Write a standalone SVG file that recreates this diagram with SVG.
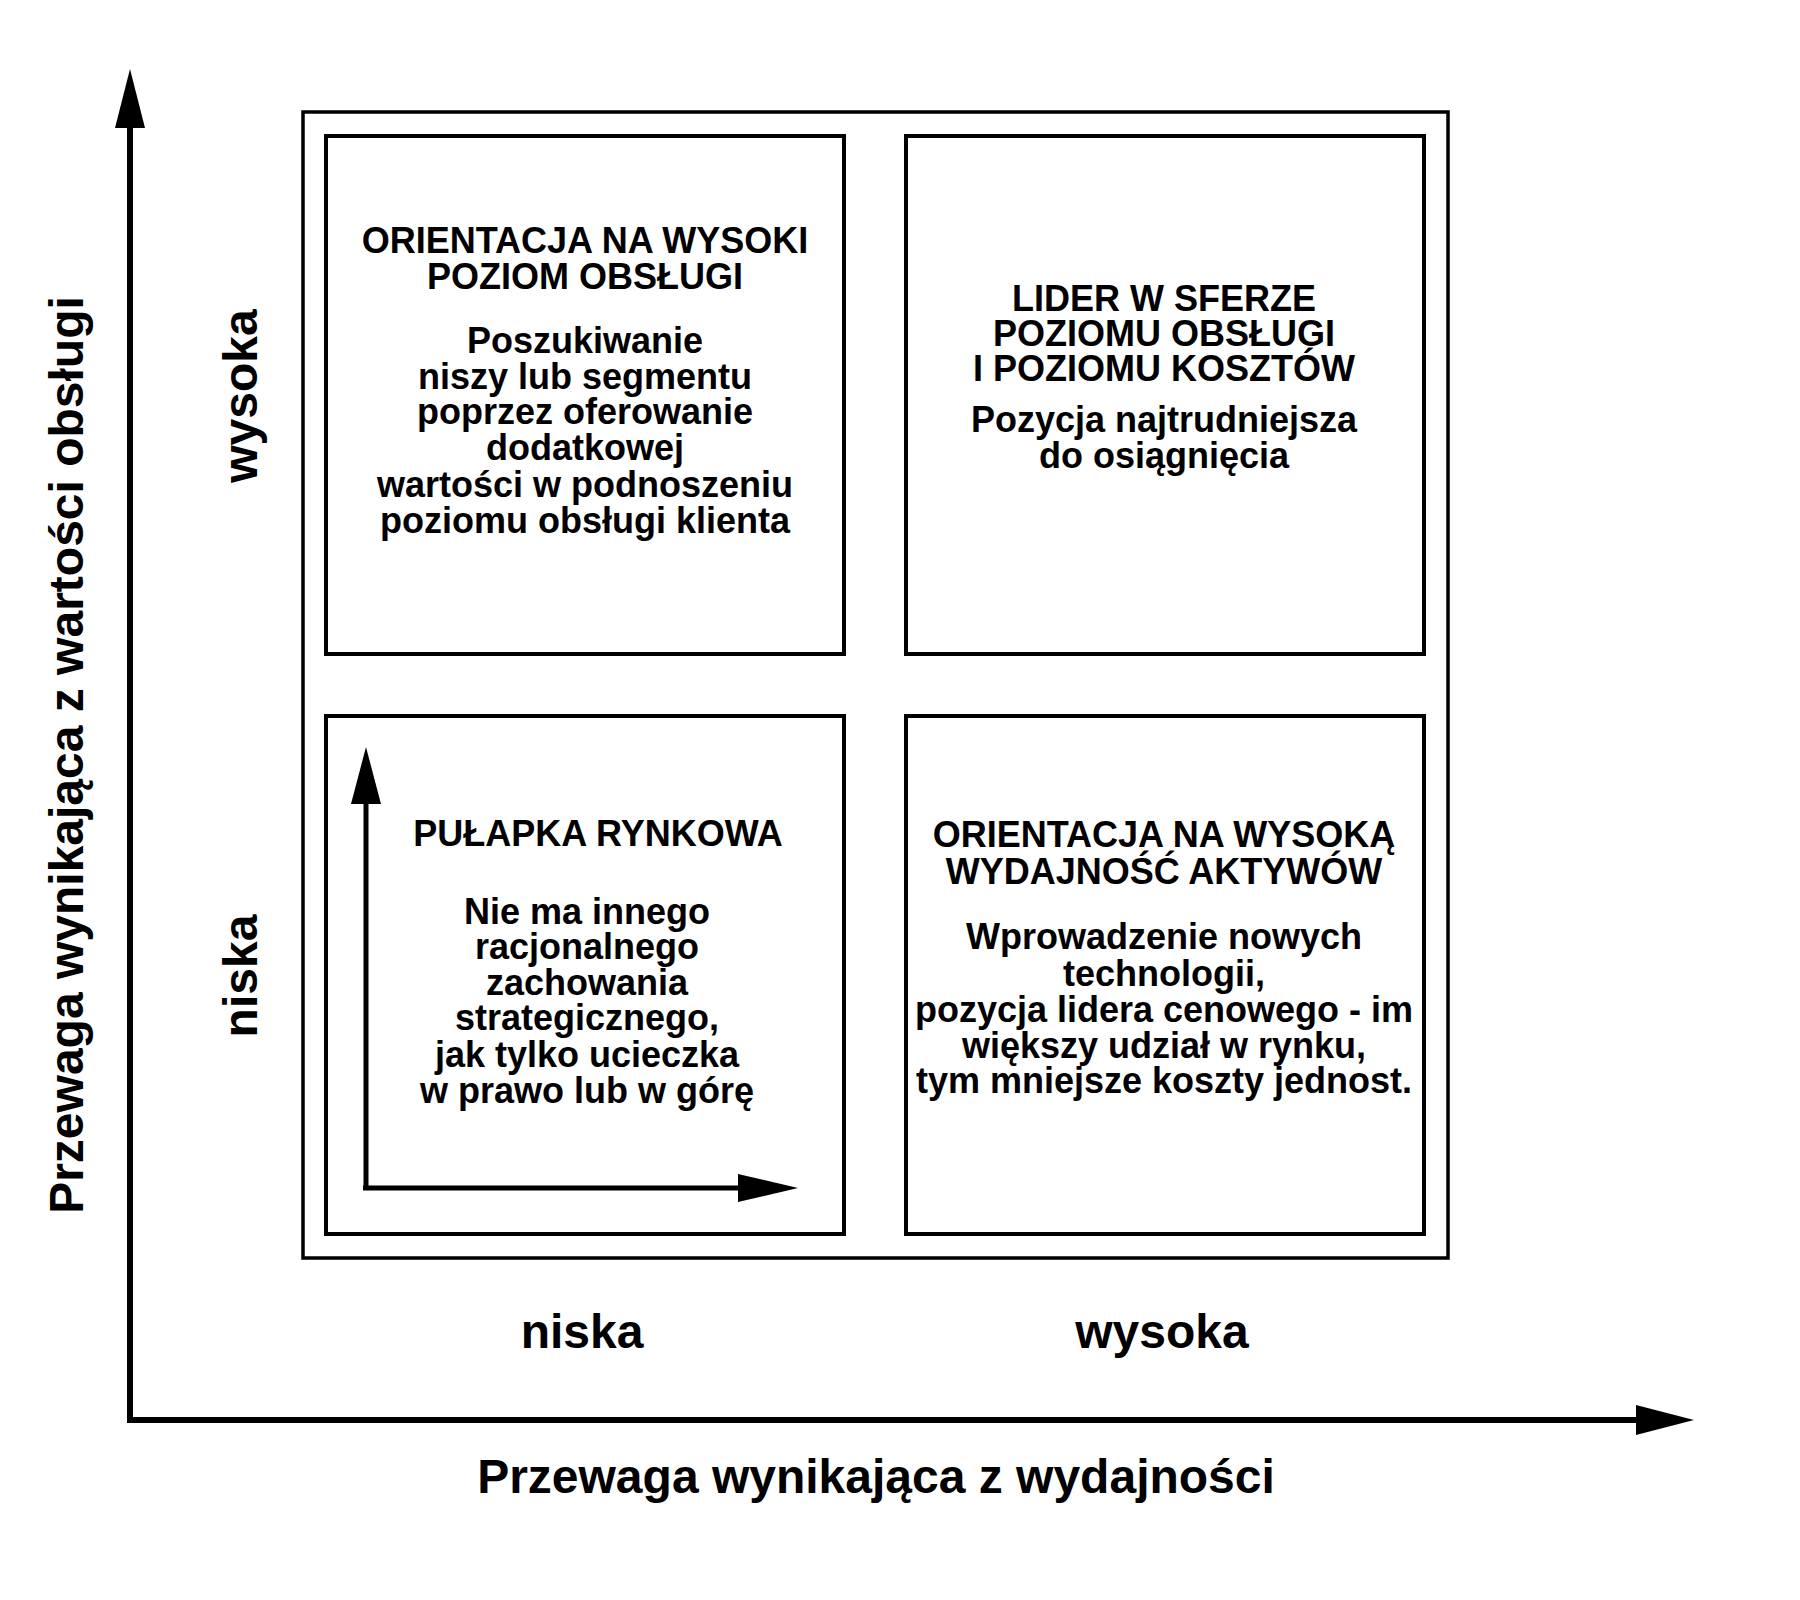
<svg xmlns="http://www.w3.org/2000/svg" width="1800" height="1600" viewBox="0 0 1800 1600">
<style>
  text { font-family: "Liberation Sans", Arial, sans-serif; font-weight: bold; fill: #000; text-anchor: middle; }
  .title { font-size: 36px; }
  .body { font-size: 36px; }
  .axis { font-size: 48px; }
  .box { fill: none; stroke: #000; stroke-width: 4; }
  .line { fill: none; stroke: #000; stroke-width: 6; }
  .iline { fill: none; stroke: #000; stroke-width: 5; }
</style>
<rect width="1800" height="1600" fill="#fff"/>
<g id="connectors">
  <path class="line" d="M130,1423 V124"/>
  <polygon points="130,69 115,128 145,128" fill="#000"/>
  <path class="line" d="M127,1420 H1640"/>
  <polygon points="1694,1420 1636,1405 1636,1435" fill="#000"/>
</g>
<g id="frame">
  <rect x="303" y="112" width="1145" height="1146" fill="none" stroke="#000" stroke-width="3.5"/>
</g>
<g id="node-top-left">
  <rect class="box" x="326" y="136" width="518" height="518"/>
  <text class="title" x="585" y="253">ORIENTACJA NA WYSOKI</text>
  <text class="title" x="585" y="289">POZIOM OBSŁUGI</text>
  <text class="body" x="585" y="353">Poszukiwanie</text>
  <text class="body" x="585" y="389">niszy lub segmentu</text>
  <text class="body" x="585" y="424">poprzez oferowanie</text>
  <text class="body" x="585" y="460">dodatkowej</text>
  <text class="body" x="585" y="497">wartości w podnoszeniu</text>
  <text class="body" x="585" y="533">poziomu obsługi klienta</text>
</g>
<g id="node-top-right">
  <rect class="box" x="906" y="136" width="518" height="518"/>
  <text class="title" x="1164" y="311">LIDER W SFERZE</text>
  <text class="title" x="1164" y="346">POZIOMU OBSŁUGI</text>
  <text class="title" x="1164" y="381">I POZIOMU KOSZTÓW</text>
  <text class="body" x="1164" y="432">Pozycja najtrudniejsza</text>
  <text class="body" x="1164" y="468">do osiągnięcia</text>
</g>
<g id="node-bottom-left">
  <rect class="box" x="326" y="716" width="518" height="518"/>
  <path class="iline" d="M366,1190 V800 M363,1188 H742"/>
  <polygon points="366,747 351,804 381,804" fill="#000"/>
  <polygon points="798,1188 738,1174 738,1202" fill="#000"/>
  <text class="title" x="598" y="846">PUŁAPKA RYNKOWA</text>
  <text class="body" x="587" y="924">Nie ma innego</text>
  <text class="body" x="587" y="959">racjonalnego</text>
  <text class="body" x="587" y="995">zachowania</text>
  <text class="body" x="587" y="1030">strategicznego,</text>
  <text class="body" x="587" y="1067">jak tylko ucieczka</text>
  <text class="body" x="587" y="1103">w prawo lub w górę</text>
</g>
<g id="node-bottom-right">
  <rect class="box" x="906" y="716" width="518" height="518"/>
  <text class="title" x="1164" y="847">ORIENTACJA NA WYSOKĄ</text>
  <text class="title" x="1164" y="884">WYDAJNOŚĆ AKTYWÓW</text>
  <text class="body" x="1164" y="949">Wprowadzenie nowych</text>
  <text class="body" x="1164" y="986">technologii,</text>
  <text class="body" x="1164" y="1022">pozycja lidera cenowego - im</text>
  <text class="body" x="1164" y="1058">większy udział w rynku,</text>
  <text class="body" x="1164" y="1093">tym mniejsze koszty jednost.</text>
</g>
<g id="labels">
  <text class="axis" transform="translate(257,396) rotate(-90)">wysoka</text>
  <text class="axis" transform="translate(257,976) rotate(-90)">niska</text>
  <text class="axis" transform="translate(83,755) rotate(-90)">Przewaga wynikająca z wartości obsługi</text>
  <text class="axis" x="582" y="1348">niska</text>
  <text class="axis" x="1162" y="1348">wysoka</text>
  <text class="axis" x="876" y="1493">Przewaga wynikająca z wydajności</text>
</g>
</svg>
